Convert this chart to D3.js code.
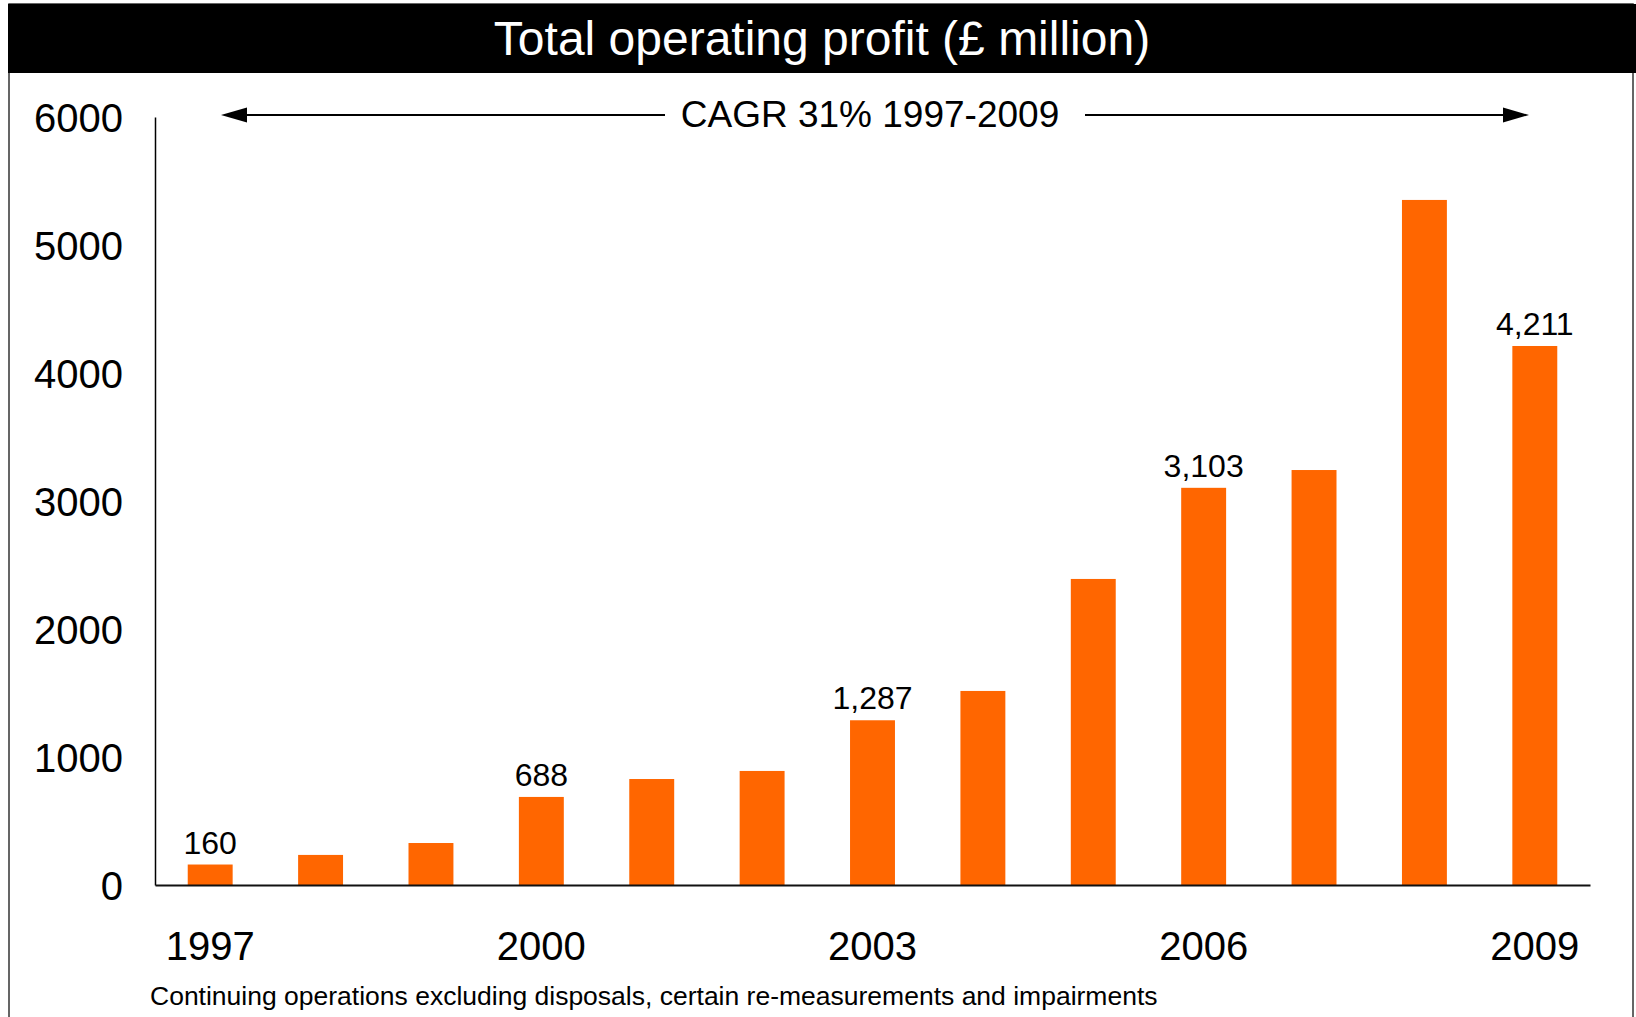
<!DOCTYPE html>
<html>
<head>
<meta charset="utf-8">
<script src="https://cdn.jsdelivr.net/npm/d3@7"></script>
<style>
  html, body { margin: 0; padding: 0; background: #fff; }
  svg { display: block; font-family: "Liberation Sans", Arial, sans-serif; }
</style>
</head>
<body>
<script>
// Operating profit by year, £ million
const years = ["1997","1998","1999","2000","2001","2002","2003","2004","2005","2006","2007","2008","2009"];
const profit = [160, 235, 328, 688, 828, 891, 1287, 1516, 2391, 3103, 3242, 5352, 4211];
const labelledYears = ["1997","2000","2003","2006","2009"];
const yTicks = [0, 1000, 2000, 3000, 4000, 5000, 6000];
const titleText = "Total operating profit (£ million)";
const cagrText = "CAGR 31% 1997-2009";
const footnote = "Continuing operations excluding disposals, certain re-measurements and impairments";

const W = 1636, H = 1017;
const svg = d3.select("body").append("svg").attr("width", W).attr("height", H);

// outer frame
svg.append("rect")
  .attr("x", 9).attr("y", 4).attr("width", 1624).attr("height", H + 20)
  .attr("fill", "none").attr("stroke", "#333").attr("stroke-width", 1.5);

// header band
svg.append("rect")
  .attr("x", 8).attr("y", 4).attr("width", W - 8).attr("height", 69)
  .attr("fill", "#000");
svg.append("text")
  .attr("x", 822).attr("y", 55)
  .attr("text-anchor", "middle")
  .attr("fill", "#fff")
  .attr("font-size", 48)
  .text(titleText);

// scales
const x = d3.scaleBand().domain(years).range([155, 1590])
  .paddingInner(0.593).paddingOuter(0.2965);
const y = d3.scaleLinear().domain([0, 6000]).range([885, 117]);

// bars
svg.append("g").selectAll("rect")
  .data(years.map((yr, i) => ({ yr, v: profit[i] })))
  .join("rect")
  .attr("x", d => x(d.yr))
  .attr("y", d => y(d.v))
  .attr("width", x.bandwidth())
  .attr("height", d => y(0) - y(d.v))
  .attr("fill", "#FF6600");

// value labels on selected years
const fmt = d3.format(",");
svg.append("g").selectAll("text")
  .data(years.map((yr, i) => ({ yr, v: profit[i] })).filter(d => labelledYears.includes(d.yr)))
  .join("text")
  .attr("x", d => x(d.yr) + x.bandwidth() / 2)
  .attr("y", d => y(d.v) - 11)
  .attr("text-anchor", "middle")
  .attr("font-size", 32)
  .attr("fill", "#000")
  .text(d => fmt(d.v));

// y axis
const yAxis = svg.append("g")
  .attr("transform", "translate(155,0)")
  .call(d3.axisLeft(y).tickValues(yTicks).tickFormat(d3.format("d"))
    .tickSize(0).tickSizeOuter(0).tickPadding(32));
yAxis.select(".domain").attr("stroke", "#000").attr("stroke-width", 1.5);
yAxis.selectAll("text")
  .attr("dy", "0.37em")
  .attr("font-size", 40)
  .attr("font-family", "Liberation Sans, Arial, sans-serif")
  .attr("fill", "#000");

// x axis
const xAxis = svg.append("g")
  .attr("transform", `translate(0,${y(0)})`)
  .call(d3.axisBottom(x).tickValues(labelledYears).tickSize(0).tickSizeOuter(0));
xAxis.select(".domain").attr("stroke", "#111").attr("stroke-width", 2);
xAxis.selectAll("text")
  .attr("y", 75).attr("dy", null)
  .attr("font-size", 40)
  .attr("font-family", "Liberation Sans, Arial, sans-serif")
  .attr("fill", "#000");

// CAGR annotation with double-headed arrow
const arrowY = 115;
const g = svg.append("g");
g.append("line").attr("x1", 240).attr("x2", 665).attr("y1", arrowY).attr("y2", arrowY)
  .attr("stroke", "#000").attr("stroke-width", 2);
g.append("line").attr("x1", 1085).attr("x2", 1510).attr("y1", arrowY).attr("y2", arrowY)
  .attr("stroke", "#000").attr("stroke-width", 2);
g.append("path").attr("d", `M221,${arrowY} L247,${arrowY - 7.5} L247,${arrowY + 7.5} Z`).attr("fill", "#000");
g.append("path").attr("d", `M1529,${arrowY} L1503,${arrowY - 7.5} L1503,${arrowY + 7.5} Z`).attr("fill", "#000");
g.append("text")
  .attr("x", 870).attr("y", 127)
  .attr("text-anchor", "middle")
  .attr("font-size", 37)
  .attr("fill", "#000")
  .text(cagrText);

// footnote
svg.append("text")
  .attr("x", 150).attr("y", 1005)
  .attr("font-size", 26.5)
  .attr("fill", "#000")
  .text(footnote);
</script>
</body>
</html>
